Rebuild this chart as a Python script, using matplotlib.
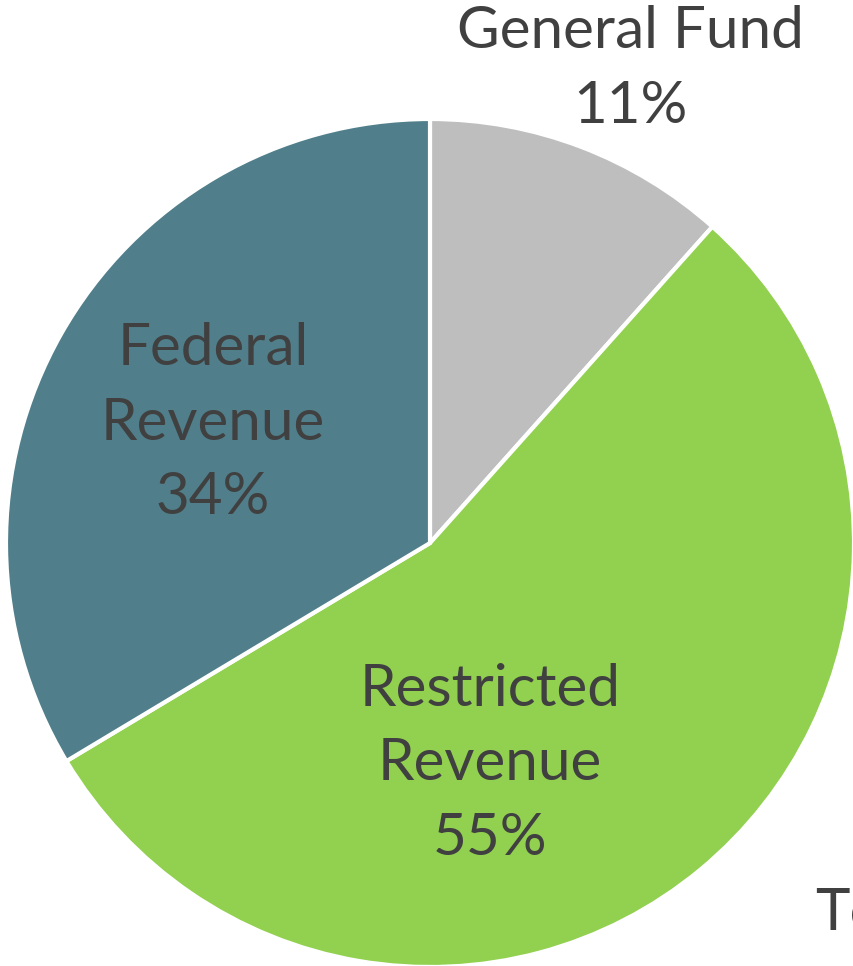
import matplotlib
matplotlib.use("Agg")
import matplotlib.pyplot as plt

labels = ["General Fund", "Restricted\nRevenue", "Federal\nRevenue"]
shares = [11.6, 54.8, 33.6]
pct_text = ["11%", "55%", "34%"]
colors = ["#BEBEBE", "#92D050", "#507F8B"]

plt.rcParams["font.family"] = ["Lato", "DejaVu Sans"]

fig = plt.figure(figsize=(8.54, 9.66), dpi=100)
ax = fig.add_axes([0, 0, 1, 1])

cx, cy, r = 430, 423, 424
ax.pie(shares, colors=colors, startangle=90, counterclock=False,
       center=(cx, cy), radius=r, frame=True,
       wedgeprops=dict(edgecolor="white", linewidth=3))
ax.set_xlim(0, 854)
ax.set_ylim(0, 966)
ax.set_aspect("equal")
ax.axis("off")

# label positions, offset from pie centre (pixels)
offsets = [(200, 474), (60, -221), (-217, 120)]
for lab, pct, (dx, dy) in zip(labels, pct_text, offsets):
    ax.text(cx + dx, cy + dy, lab + "\n" + pct, ha="center", va="center",
            fontsize=42, color="#404040", linespacing=1.5)

# title clipped at the right edge, as in the source
ax.text(815, 36, "Total", ha="left", va="baseline", fontsize=42,
        color="#404040", clip_on=False)

fig.savefig("out.png", dpi=100)
